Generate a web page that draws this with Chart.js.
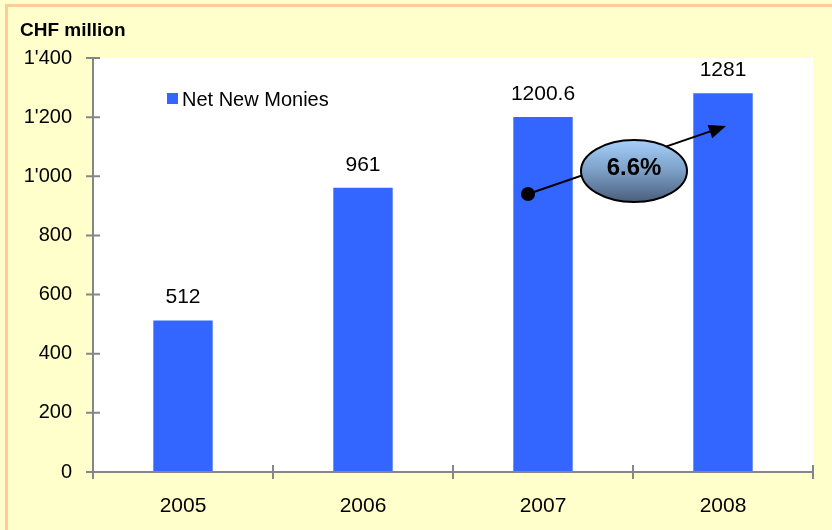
<!DOCTYPE html>
<html>
<head>
<meta charset="utf-8">
<script src="https://cdn.jsdelivr.net/npm/chart.js@4"></script>
<style>
  html, body { margin: 0; padding: 0; background: #fff; }
  #wrap { width: 832px; height: 530px; }
</style>
</head>
<body>
<div id="wrap"><canvas id="nnmChart" width="832" height="530"></canvas></div>
<script>
    // Net new monies per year, CHF million
    var years = ['2005', '2006', '2007', '2008'];
    var netNewMonies = [512, 961, 1200.6, 1281];
    var seriesName = 'Net New Monies';
    var unitTitle = 'CHF million';
    var growthLabel = '6.6%';

    var barColor = '#3366FF';
    var axisColor = '#868686';
    var fontFamily = '"Liberation Sans", Arial, sans-serif';

    // 1'400 style thousands separator
    function swissNumber(v) {
        return String(v).replace(/\B(?=(\d{3})+(?!\d))/g, "'");
    }

    var decorPlugin = {
        id: 'decor',
        beforeDraw: function (chart) {
            var c = chart.ctx, a = chart.chartArea;
            c.save();
            c.fillStyle = '#FFFFCC';
            c.fillRect(0, 0, chart.width, chart.height);
            c.strokeStyle = '#FFCC99';
            c.lineWidth = 3;
            c.strokeRect(6.5, 5.5, chart.width + 20, chart.height + 20);
            c.fillStyle = '#FFFFFF';
            c.fillRect(a.left, a.top, a.right - a.left, a.bottom - a.top);
            c.restore();
        },
        afterDatasetsDraw: function (chart) {
            var c = chart.ctx, a = chart.chartArea;
            var xs = chart.scales.x, ys = chart.scales.y;
            var meta = chart.getDatasetMeta(0);
            c.save();

            // axes with crossing tick marks
            c.strokeStyle = axisColor;
            c.lineWidth = 2;
            c.beginPath();
            c.moveTo(a.left, a.top);
            c.lineTo(a.left, a.bottom);
            c.lineTo(a.right, a.bottom);
            ys.ticks.forEach(function (t) {
                var y = ys.getPixelForValue(t.value);
                c.moveTo(a.left - 7, y);
                c.lineTo(a.left + 7, y);
            });
            var step = (a.right - a.left) / years.length;
            for (var i = 0; i <= years.length; i++) {
                var x = a.left + step * i;
                c.moveTo(x, a.bottom - 7);
                c.lineTo(x, a.bottom + 7);
            }
            c.stroke();

            // value labels above the bars
            c.fillStyle = '#000';
            c.font = '21px ' + fontFamily;
            c.textAlign = 'center';
            c.textBaseline = 'middle';
            meta.data.forEach(function (bar, i) {
                c.fillText(String(netNewMonies[i]), bar.x, bar.y - 23);
            });

            // legend inside the plot
            c.fillStyle = barColor;
            c.fillRect(167, 93, 11, 11);
            c.fillStyle = '#000';
            c.font = '20px ' + fontFamily;
            c.textAlign = 'left';
            c.fillText(seriesName, 182, 100);

            // unit title
            c.font = 'bold 19px ' + fontFamily;
            c.fillText(unitTitle, 20, 31);

            // growth arrow 2007 -> 2008
            var x0 = xs.getPixelForValue(2) - 15, y0 = ys.getPixelForValue(940);
            var x1 = xs.getPixelForValue(3) + 3, y1 = ys.getPixelForValue(1170);
            var ang = Math.atan2(y1 - y0, x1 - x0);
            c.strokeStyle = '#000';
            c.fillStyle = '#000';
            c.lineWidth = 2;
            c.beginPath();
            c.moveTo(x0, y0);
            c.lineTo(x1 - 12 * Math.cos(ang), y1 - 12 * Math.sin(ang));
            c.stroke();
            c.beginPath();
            c.moveTo(x1, y1);
            c.lineTo(x1 - 17 * Math.cos(ang) + 7 * Math.sin(ang), y1 - 17 * Math.sin(ang) - 7 * Math.cos(ang));
            c.lineTo(x1 - 17 * Math.cos(ang) - 7 * Math.sin(ang), y1 - 17 * Math.sin(ang) + 7 * Math.cos(ang));
            c.closePath();
            c.fill();
            c.beginPath();
            c.arc(x0, y0, 7, 0, Math.PI * 2);
            c.fill();

            // growth bubble
            var ex = (xs.getPixelForValue(2) + xs.getPixelForValue(3)) / 2 + 1;
            var ey = ys.getPixelForValue(1018);
            var g = c.createLinearGradient(0, ey - 31, 0, ey + 31);
            g.addColorStop(0, '#A6D0FA');
            g.addColorStop(0.5, '#7C9FC6');
            g.addColorStop(1, '#4A5E7C');
            c.beginPath();
            c.ellipse(ex, ey, 53, 31, 0, 0, Math.PI * 2);
            c.fillStyle = g;
            c.fill();
            c.lineWidth = 2;
            c.stroke();
            c.fillStyle = '#000';
            c.font = 'bold 24px ' + fontFamily;
            c.textAlign = 'center';
            c.fillText(growthLabel, ex, ey - 3);

            c.restore();
        }
    };

    var ctx = document.getElementById('nnmChart').getContext('2d');
    var nnmChart = new Chart(ctx, {
        type: 'bar',
        data: {
            labels: years,
            datasets: [{
                label: seriesName,
                data: netNewMonies,
                backgroundColor: barColor,
                borderWidth: 0,
                categoryPercentage: 1,
                barPercentage: 0.33
            }]
        },
        options: {
            responsive: false,
            animation: false,
            layout: { padding: { left: 0, top: 58, right: 19, bottom: 0 } },
            scales: {
                x: {
                    grid: { display: false, drawTicks: false },
                    border: { display: false },
                    ticks: { color: '#000', font: { family: fontFamily, size: 21 }, padding: 22 },
                    afterFit: function (s) { s.height = 58; }
                },
                y: {
                    min: 0,
                    max: 1400,
                    grid: { display: false, drawTicks: false },
                    border: { display: false },
                    ticks: {
                        stepSize: 200,
                        color: '#000',
                        padding: 21,
                        font: { family: fontFamily, size: 20 },
                        callback: function (v) { return swissNumber(v); }
                    },
                    afterFit: function (s) { s.width = 93; }
                }
            },
            plugins: {
                legend: { display: false },
                tooltip: { enabled: false }
            }
        },
        plugins: [decorPlugin]
    });
</script>
</body>
</html>
